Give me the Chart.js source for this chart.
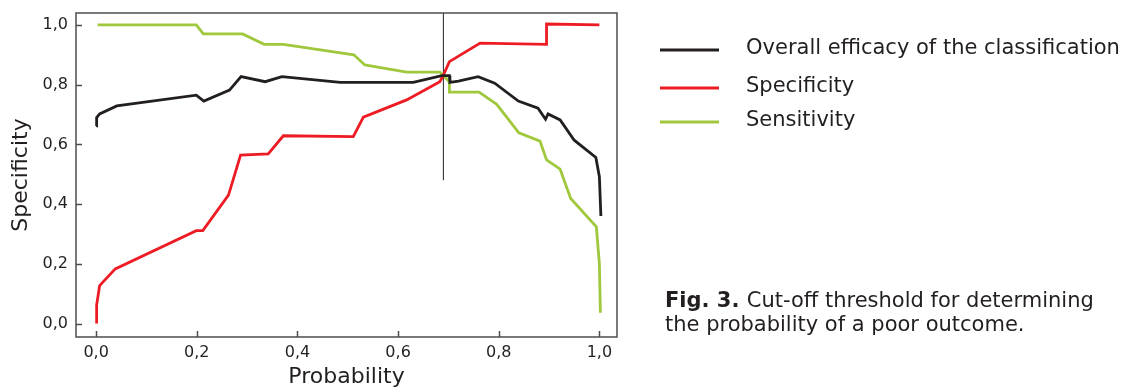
<!DOCTYPE html>
<html>
<head>
<meta charset="utf-8">
<title>Cut-off threshold</title>
<script src="https://cdn.jsdelivr.net/npm/chart.js@4.4.1/dist/chart.umd.min.js"></script>
<style>
  html, body { margin: 0; background: #fff; }
  canvas { display: block; }
</style>
</head>
<body>
<canvas id="cutoff-chart" width="1136" height="390"></canvas>
<script>
// ---- data ----
const efficacyX = [0.000, 0.001, 0.007, 0.041, 0.199, 0.214, 0.265, 0.288, 0.336, 0.369, 0.485, 0.630, 0.687, 0.702, 0.703, 0.720, 0.759, 0.792, 0.839, 0.878, 0.893, 0.898, 0.922, 0.950, 0.993, 1.000, 1.003];
const efficacyY = [0.662, 0.690, 0.702, 0.729, 0.765, 0.745, 0.782, 0.827, 0.810, 0.827, 0.808, 0.808, 0.830, 0.830, 0.808, 0.812, 0.827, 0.805, 0.745, 0.721, 0.684, 0.702, 0.682, 0.614, 0.556, 0.492, 0.360];

const specificityX = [0.001, 0.001, 0.007, 0.038, 0.199, 0.212, 0.263, 0.287, 0.342, 0.372, 0.511, 0.531, 0.617, 0.683, 0.690, 0.702, 0.763, 0.895, 0.895, 1.000];
const specificityY = [0.000, 0.062, 0.127, 0.183, 0.311, 0.311, 0.430, 0.564, 0.568, 0.629, 0.626, 0.691, 0.749, 0.810, 0.832, 0.877, 0.939, 0.935, 1.003, 1.000];

const sensitivityX = [0.003, 0.199, 0.213, 0.291, 0.334, 0.372, 0.512, 0.534, 0.617, 0.683, 0.702, 0.702, 0.761, 0.796, 0.840, 0.882, 0.895, 0.922, 0.943, 0.994, 1.000, 1.002];
const sensitivityY = [1.000, 1.000, 0.970, 0.970, 0.935, 0.935, 0.900, 0.866, 0.842, 0.842, 0.810, 0.775, 0.775, 0.734, 0.639, 0.611, 0.548, 0.517, 0.419, 0.324, 0.200, 0.036];

const cutoffX = 0.69;
const cutoffYFrom = 0.48;

const seriesLabels = ['Overall efficacy of the classification', 'Specificity', 'Sensitivity'];

const xTicks = [0, 0.2, 0.4, 0.6, 0.8, 1.0];
const xTickLabels = ['0,0', '0,2', '0,4', '0,6', '0,8', '1,0'];
const yTicks = [0, 0.2, 0.4, 0.6, 0.8, 1.0];
const yTickLabels = ['0,0', '0,2', '0,4', '0,6', '0,8', '1,0'];

const xRange = [-0.04, 1.035];
const yRange = [-0.045, 1.04];

const captionBold = 'Fig. 3.';
const captionLines = ['Cut-off threshold for determining', 'the probability of a poor outcome.'];

// ---- colours ----
const colors = {
  black: '#231f20',
  red:   '#ed1c24',
  green: '#9fc83c',
  frame: '#4d4d4d',
  text:  '#231f20',
};

const FONT = "'DejaVu Sans', sans-serif";

function zip(xs, ys) {
  return xs.map((x, i) => ({ x: x, y: ys[i] }));
}

function lineSet(label, xs, ys, color) {
  return {
    label: label,
    data: zip(xs, ys),
    borderColor: color,
    backgroundColor: color,
    borderWidth: 2.8,
    pointRadius: 0,
    tension: 0,
    fill: false,
    inLegend: true,
  };
}

// frame (all four sides), inward tick marks, legend and caption
const extrasPlugin = {
  id: 'extras',
  afterDraw(chart) {
    const ctx = chart.ctx;
    const a = chart.chartArea;
    const sx = chart.scales.x;
    const sy = chart.scales.y;
    ctx.save();
    ctx.strokeStyle = colors.frame;
    ctx.lineWidth = 1.5;
    ctx.strokeRect(a.left, a.top, a.right - a.left, a.bottom - a.top);

    ctx.beginPath();
    xTicks.forEach(v => {
      const px = Math.round(sx.getPixelForValue(v)) + 0.5;
      ctx.moveTo(px, a.bottom);
      ctx.lineTo(px, a.bottom - 6);
    });
    yTicks.forEach(v => {
      const py = Math.round(sy.getPixelForValue(v)) + 0.5;
      ctx.moveTo(a.left, py);
      ctx.lineTo(a.left + 6, py);
    });
    ctx.stroke();

    // legend
    const items = chart.data.datasets.filter(ds => ds.inLegend);
    const rows = [50, 88, 122];
    ctx.font = '21px ' + FONT;
    ctx.fillStyle = colors.text;
    ctx.textBaseline = 'middle';
    ctx.textAlign = 'left';
    items.forEach((ds, i) => {
      const y = rows[i];
      ctx.strokeStyle = ds.borderColor;
      ctx.lineWidth = 3;
      ctx.beginPath();
      ctx.moveTo(660, y);
      ctx.lineTo(719, y);
      ctx.stroke();
      ctx.fillText(ds.label, 746, y - 1);
    });

    // caption
    ctx.textBaseline = 'alphabetic';
    ctx.font = 'bold 21px ' + FONT;
    ctx.fillText(captionBold, 665, 307);
    const w = ctx.measureText(captionBold + ' ').width;
    ctx.font = '21px ' + FONT;
    ctx.fillText(captionLines[0], 665 + w, 307);
    ctx.fillText(captionLines[1], 665, 331);
    ctx.restore();
  }
};

new Chart(document.getElementById('cutoff-chart'), {
  type: 'line',
  data: {
    datasets: [
      lineSet(seriesLabels[0], efficacyX, efficacyY, colors.black),
      lineSet(seriesLabels[1], specificityX, specificityY, colors.red),
      lineSet(seriesLabels[2], sensitivityX, sensitivityY, colors.green),
      {
        label: 'cut-off',
        data: [{ x: cutoffX, y: cutoffYFrom }, { x: cutoffX, y: yRange[1] }],
        borderColor: colors.black,
        borderWidth: 1,
        pointRadius: 0,
        fill: false,
      },
    ]
  },
  options: {
    responsive: false,
    devicePixelRatio: 1,
    animation: false,
    layout: { padding: { left: 0, top: 13, right: 519, bottom: 0 } },
    plugins: {
      legend: { display: false },
      tooltip: { enabled: false },
    },
    scales: {
      x: {
        type: 'linear',
        min: xRange[0],
        max: xRange[1],
        afterBuildTicks: s => { s.ticks = xTicks.map(v => ({ value: v })); },
        afterFit: s => { s.height = 53; s.paddingLeft = 0; s.paddingRight = 0; },
        border: { display: false },
        grid: { display: false, drawTicks: false },
        ticks: {
          padding: 6,
          maxRotation: 0,
          color: colors.text,
          font: { family: FONT, size: 16 },
          callback: (v, i) => xTickLabels[i],
        },
        title: {
          display: true,
          text: 'Probability',
          color: colors.text,
          font: { family: FONT, size: 22 },
          padding: { top: 0, bottom: 0 },
        },
      },
      y: {
        type: 'linear',
        min: yRange[0],
        max: yRange[1],
        afterBuildTicks: s => { s.ticks = yTicks.map(v => ({ value: v })); },
        afterFit: s => { s.width = 76; s.paddingTop = 0; s.paddingBottom = 0; },
        border: { display: false },
        grid: { display: false, drawTicks: false },
        ticks: {
          padding: 8,
          color: colors.text,
          font: { family: FONT, size: 16 },
          callback: (v, i) => yTickLabels[i],
        },
        title: {
          display: true,
          text: 'Specificity',
          color: colors.text,
          font: { family: FONT, size: 22 },
          padding: { top: 8, bottom: 0 },
        },
      },
    },
  },
  plugins: [extrasPlugin],
});
</script>
</body>
</html>
